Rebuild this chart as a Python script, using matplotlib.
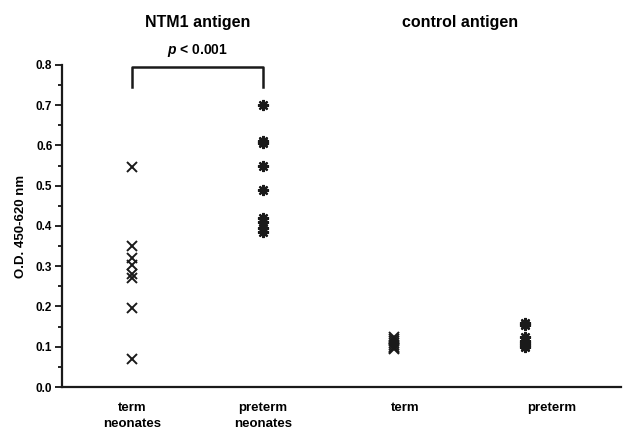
import matplotlib.pyplot as plt
import numpy as np

plt.rcParams['font.family'] = ['Liberation Sans', 'DejaVu Sans']
plt.rcParams['mathtext.fontset'] = 'custom'
plt.rcParams['mathtext.it'] = 'Liberation Sans:italic:bold'
plt.rcParams['mathtext.rm'] = 'Liberation Sans:bold'

# O.D. values
ntm1_term = [0.547, 0.349, 0.320, 0.303, 0.280, 0.270, 0.195, 0.069]
ntm1_preterm = [0.700, 0.610, 0.605, 0.548, 0.490, 0.420, 0.410, 0.395, 0.385]
ctrl_term = [0.125, 0.120, 0.115, 0.110, 0.105, 0.100, 0.097, 0.094]
ctrl_preterm = [0.158, 0.154, 0.125, 0.115, 0.110, 0.105, 0.100]

groups = ['term\nneonates', 'preterm\nneonates', 'term', 'preterm']
titles = ['NTM1 antigen', 'control antigen']
p_text = '$p$ < 0.001'

fig = plt.figure(figsize=(6.23, 4.30), dpi=100)
ax = fig.add_axes([0.0995, 0.1, 0.8975, 0.749])

ax.plot([1] * len(ntm1_term), ntm1_term, 'x', color='#1a1a1a', ms=6.5, mew=1.4)
ax.plot([2] * len(ntm1_preterm), ntm1_preterm, marker=(8, 2, 0), ls='none',
        color='#1a1a1a', ms=8, mew=1.6)
ax.plot([3] * len(ctrl_term), ctrl_term, 'x', color='#1a1a1a', ms=6.5, mew=1.4)
ax.plot([4] * len(ctrl_preterm), ctrl_preterm, marker=(8, 2, 0), ls='none',
        color='#1a1a1a', ms=8, mew=1.6)

ax.set_xlim(0.466, 4.73)
ax.set_ylim(0, 0.8)
ax.set_yticks(np.arange(0, 0.81, 0.1))
ax.set_yticks(np.arange(0.05, 0.8, 0.1), minor=True)
ax.set_yticklabels(['%.1f' % v for v in np.arange(0, 0.81, 0.1)],
                   fontsize=8.5, fontweight='bold')
ax.set_xticks([1, 2, 3.08, 4.2])
ax.set_xticklabels(groups, fontsize=9.5, fontweight='bold', linespacing=1.4)
ax.tick_params(axis='x', length=0, pad=11)
ax.tick_params(axis='y', which='major', length=5, width=1.2, pad=2)
ax.tick_params(axis='y', which='minor', length=3, width=1.2)
for s in ['top', 'right']:
    ax.spines[s].set_visible(False)
for s in ['left', 'bottom']:
    ax.spines[s].set_linewidth(1.6)
    ax.spines[s].set_color('#1a1a1a')

ax.set_ylabel('O.D. 450-620 nm', fontsize=9.5, fontweight='bold', labelpad=6)

# significance bracket
ax.plot([1, 1, 2, 2], [0.745, 0.795, 0.795, 0.745], color='#1a1a1a', lw=1.8,
        clip_on=False)
ax.text(1.5, 0.815, p_text, ha='center', va='bottom', fontsize=10,
        fontweight='bold')

fig.text(198 / 623, 1 - 22 / 430, titles[0], ha='center', va='center',
         fontsize=11.5, fontweight='bold')
fig.text(460 / 623, 1 - 22 / 430, titles[1], ha='center', va='center',
         fontsize=11.5, fontweight='bold')

fig.savefig('out.png', dpi=100)
